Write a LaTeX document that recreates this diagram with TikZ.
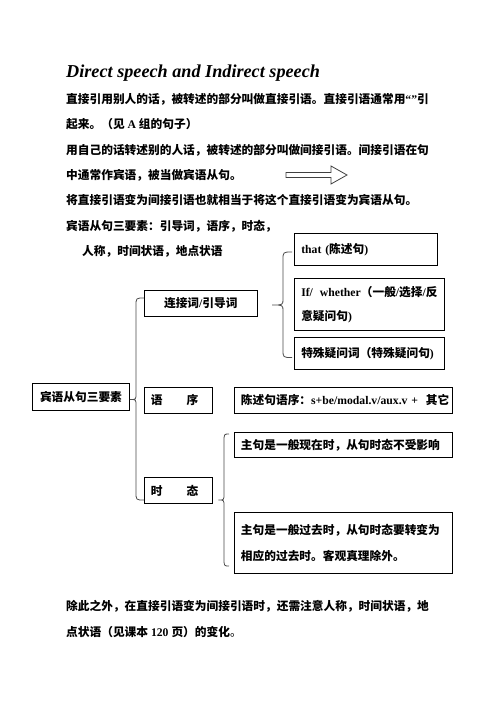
\documentclass[tikz,border=0pt]{standalone}
\usepackage{fontspec}
\setmainfont{Liberation Serif}
\newfontfamily\cjk{Noto Sans CJK SC}
\newcommand\zh[1]{{\cjk#1}}
% #1 end x, #2 vertical x, #3 tip x, #4 top y, #5 tip y, #6 bottom y
\newcommand\mybrace[6]{%
  \draw[bracestyle] (#1,#4) .. controls (#2,#4) .. (#2,#4+8) -- (#2,#5-6)
    .. controls (#2,#5) .. (#3,#5) .. controls (#2,#5) .. (#2,#5+6)
    -- (#2,#6-8) .. controls (#2,#6) .. (#1,#6);}
\begin{document}
\begin{tikzpicture}[x=1pt,y=-1pt,
  txt/.style={anchor=base west, inner sep=0pt, font=\bfseries\fontsize{11.7}{14}\selectfont},
  box/.style={draw, line width=0.9pt, anchor=north west, inner xsep=6.5pt, inner ysep=0pt,
    align=left, font=\bfseries\fontsize{11.7}{23.3}\selectfont},
  cbox/.style={draw, line width=0.9pt, anchor=north west, inner sep=0pt,
    align=center, font=\bfseries\fontsize{11.7}{14}\selectfont},
  bracestyle/.style={draw=black!70, line width=0.8pt},
  bigarrow/.style={draw=black!75, line width=0.8pt, fill=white}]
\fill[white] (0,0) rectangle (496,702);
\useasboundingbox (0,0) rectangle (496,702);

% title and paragraphs
\node[anchor=base west, inner sep=0pt, font=\bfseries\itshape\fontsize{18.2}{20}\selectfont] (title) at (66,77.7) {Direct speech and Indirect speech};
\node[txt] (l1) at (66,103.6) {\zh{直接引用别人的话，被转述的部分叫做直接引语。直接引语通常用}“”\zh{引}};
\node[txt] (l2) at (66,128.9) {\zh{起来。（见}~A~\zh{组的句子）}};
\node[txt] (l3) at (66,154.2) {\zh{用自己的话转述别的人话，被转述的部分叫做间接引语。间接引语在句}};
\node[txt] (l4) at (66,179.5) {\zh{中通常作宾语，被当做宾语从句。}};
\node[txt] (l5) at (66,204.8) {\zh{将直接引语变为间接引语也就相当于将这个直接引语变为宾语从句。}};
\node[txt] (l6) at (66,230.1) {\zh{宾语从句三要素：引导词，语序，时态，}};
\node[txt] (l7) at (82,255.4) {\zh{人称，时间状语，地点状语}};

% block arrow
\draw[bigarrow] (286,172.5) -- (331,172.5) -- (331,166) -- (347,175) -- (331,184) -- (331,177.5) -- (286,177.5) -- cycle;

% boxes
\node[cbox, minimum width=97.6, minimum height=27.3] (root) at (31.7,382.7) {\zh{宾语从句三要素}};
\node[cbox, minimum width=112.7, minimum height=26] (lianjie) at (144,290) {\zh{连接词}/\zh{引导词}};
\node[box, text width=67.7-13, minimum height=26] (yuxu) at (144,386.7) {\mbox{\zh{语}\hspace{24pt}\zh{序}}};
\node[box, text width=67.7-13, minimum height=26] (shitai) at (144,477.3) {\mbox{\zh{时}\hspace{24pt}\zh{态}}};

\node[box, text width=142.4-13, minimum height=31.7] (that) at (294.3,233.3) {\mbox{that (\zh{陈述句})}};
\node[box, text width=150-13, minimum height=51.7] (ifw) at (294.3,278.3) {\mbox{If/\hspace{7pt}whether\zh{（一般}/\zh{选择}/\zh{反}}\\\mbox{\zh{意疑问句})}};
\node[box, text width=150-13, minimum height=32.3] (teshu) at (294.3,336.7) {\mbox{\zh{特殊疑问词（特殊疑问句}{)}}};

\node[box, text width=217.7-13, minimum height=26] (chenshu) at (234,386.7) {\mbox{\zh{陈述句语序：}s+be/modal.v/aux.v +~~\zh{其它}}};
\node[box, text width=217.7-13, minimum height=25.6] (xianzai) at (234,431.7) {\mbox{\zh{主句是一般现在时，从句时态不受影响}}};
\node[box, text width=217.7-13, minimum height=61.6, font=\bfseries\fontsize{11.7}{26}\selectfont] (guoqu) at (234,511.7) {\mbox{\zh{主句是一般过去时，从句时态要转变为}}\\\mbox{\zh{相应的过去时。客观真理除外。}}};

% braces
\mybrace{144}{136}{130}{298}{399.5}{500}
\mybrace{292}{283}{272}{252}{305}{357.5}
\mybrace{229}{224}{218.5}{434}{500}{566}

% closing paragraph
\node[txt] (f1) at (66,610.3) {\zh{除此之外，在直接引语变为间接引语时，还需注意人称，时间状语，地}};
\node[txt] (f2) at (66,636) {\zh{点状语（见课本}~120~\zh{页）的变化}{\mdseries\zh{。}}};
\end{tikzpicture}
\end{document}
